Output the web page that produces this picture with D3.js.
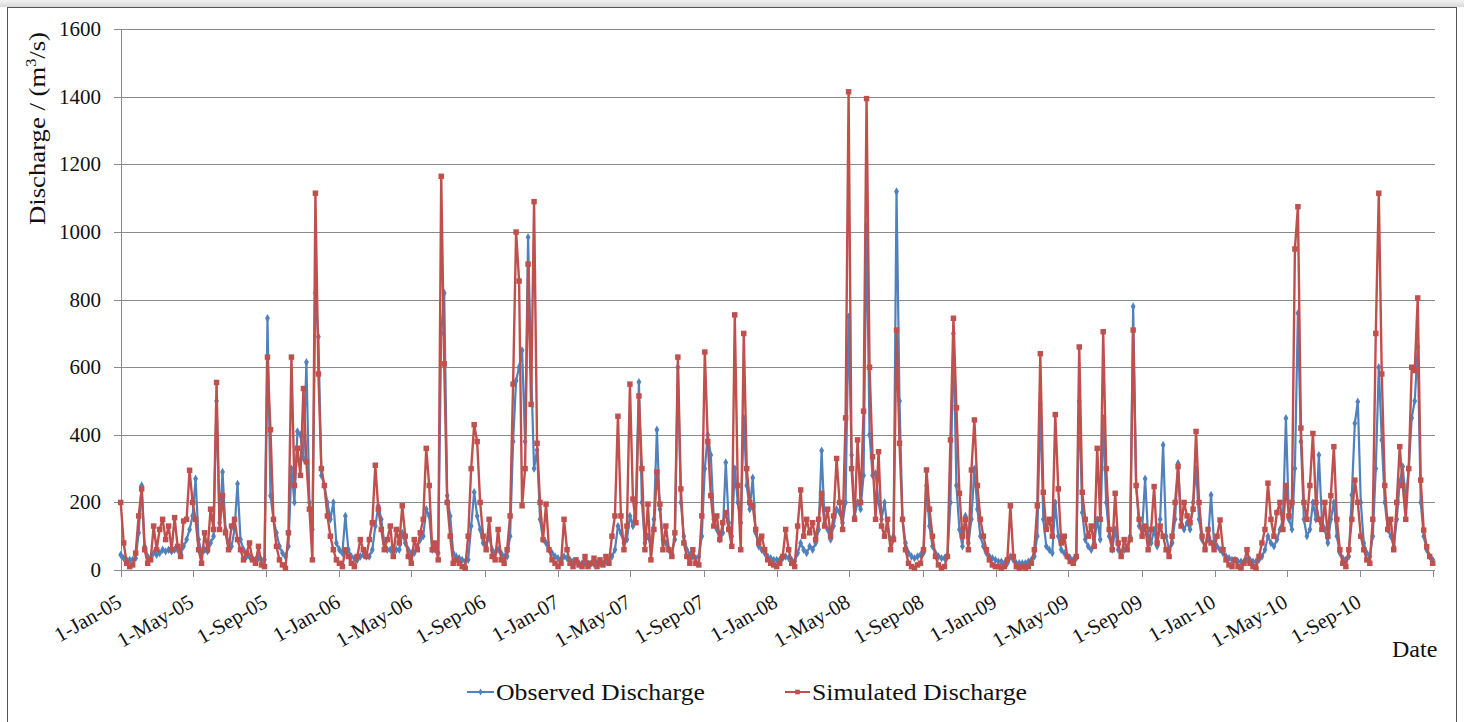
<!DOCTYPE html>
<html>
<head>
<meta charset="utf-8">
<script src="https://cdn.jsdelivr.net/npm/d3@7"></script>
<style>
  html, body { margin: 0; padding: 0; background: #ffffff; }
  svg { display: block; }
</style>
</head>
<body>
<svg id="chart" width="1464" height="722"></svg>
<script>
// Daily discharge, sampled every 5 days from 1 Jan 2005 (m3/s)
const startDate = new Date(2005, 0, 1);
const stepDays = 5;

const observed2005 = [45,35,30,30,30,35,110,250,70,40,35,50,45,50,60,55,60,55,60,60,50,70,90,120,160,270,90,50,60,55,80,100,500,140,290,120,80,70,120,255,90,60,40,40,35,30,35,30,30,745,220,150,110,70,50,40,70,300,200,410,400,330,615,200,120,820,690,280,250,200,150,200,80];
const simulated2005 = [200,80,20,10,15,50,160,240,60,20,30,130,60,120,150,90,130,60,155,70,40,145,150,295,200,150,60,20,110,60,180,120,555,120,220,110,60,130,150,90,60,30,50,80,30,20,70,15,10,630,415,150,70,30,15,5,110,630,250,360,280,537,320,180,30,1115,580,300,250,160,100,60,30];

const observed2006 = [60,50,160,60,40,35,30,40,45,40,40,60,130,190,150,80,60,60,50,60,60,110,80,60,50,50,70,90,100,180,160,60,60,50,700,820,220,160,50,40,35,30,25,30,130,230,160,120,80,70,100,60,50,60,50,40,40,100,380,560,600,650,380,985,600,300,355,150,90,80,60,50,40];
const simulated2006 = [20,10,60,40,20,10,40,90,60,40,90,140,310,180,120,60,90,130,40,120,80,190,100,40,20,90,60,110,150,360,250,60,80,30,1165,610,200,100,20,30,20,10,5,100,300,430,380,200,100,60,150,40,30,120,30,20,60,160,550,1000,855,190,300,905,490,1090,375,200,90,195,60,30,20];

const observed2007 = [35,30,40,35,30,25,25,20,20,20,20,18,18,20,20,20,25,25,40,60,130,110,80,90,160,130,200,556,200,80,100,70,150,415,180,90,80,60,50,90,600,200,100,60,45,40,35,40,100,300,400,340,150,120,90,110,318,140,100,300,200,140,450,250,180,273,110,70,60,50,40,35,30];
const simulated2007 = [10,20,150,60,20,10,30,15,10,40,10,20,35,10,30,15,40,20,100,160,455,160,60,130,550,210,140,515,300,60,195,30,120,290,195,60,130,60,40,110,630,240,80,40,20,60,20,15,160,645,380,220,130,160,90,140,170,120,70,755,250,60,700,300,200,190,120,80,100,60,30,20,15];

const observed2008 = [30,30,35,40,35,30,25,50,80,60,50,70,60,80,120,353,140,120,90,130,180,170,140,200,750,340,160,200,180,280,1020,400,280,286,200,150,200,120,90,100,1120,500,150,80,50,40,35,40,45,50,250,130,70,50,40,35,35,40,200,700,250,120,70,160,80,150,300,180,100,70,50,40,35,30];
const simulated2008 = [10,20,40,120,60,20,10,130,237,100,150,110,140,90,150,227,130,180,100,160,330,200,120,450,1415,300,150,385,200,470,1395,600,335,150,350,130,100,150,60,90,710,375,150,60,20,10,5,15,20,60,296,180,100,40,15,5,10,40,385,745,480,227,100,150,60,296,444,250,150,100,60,30,15,10];

const observed2009 = [25,25,20,20,40,30,20,20,20,20,25,30,40,100,490,150,70,60,50,200,100,60,50,40,35,30,35,500,170,90,70,60,80,150,90,450,200,100,60,120,60,50,60,70,100,780,250,130,120,270,100,80,120,70,150,370,100,60,80,150,316,150,120,140,120,200,300,150,90,70,90,222,80];
const simulated2009 = [10,5,10,30,190,40,10,5,10,5,10,20,60,190,640,230,120,150,100,460,240,80,100,40,25,20,40,660,230,150,100,130,70,360,150,705,300,120,60,227,80,40,90,60,90,710,250,150,100,130,60,120,247,80,130,100,60,40,100,200,306,130,200,160,140,180,410,200,100,60,120,80,60];

const observed2010 = [70,60,50,40,35,30,30,25,25,25,30,30,25,25,30,40,60,100,80,70,90,120,150,449,150,120,300,760,380,150,100,120,200,150,340,150,120,80,150,200,100,50,35,30,40,222,434,498,200,80,50,40,100,300,600,385,200,120,100,70,150,260,306,200,300,450,500,660,200,100,60,40,30];
const simulated2010 = [100,148,60,30,15,10,30,10,5,20,60,20,10,5,40,80,120,257,150,100,170,200,120,250,160,200,950,1075,420,200,150,250,404,200,150,120,200,100,220,365,150,60,20,10,60,150,266,200,100,60,30,20,150,700,1115,580,250,120,150,60,200,365,250,150,300,600,590,805,266,118,69,40,20];

const observed = [].concat(observed2005, observed2006, observed2007, observed2008, observed2009, observed2010);
const simulated = [].concat(simulated2005, simulated2006, simulated2007, simulated2008, simulated2009, simulated2010);

const seriesNames = ["Observed Discharge", "Simulated Discharge"];
const seriesColors = ["#4F81BD", "#C0504D"];
const yTickValues = [0, 200, 400, 600, 800, 1000, 1200, 1400, 1600];
const yAxisTitle = "Discharge / (m";
const xAxisTitle = "Date";

const svg = d3.select("#chart");
const W = 1464, H = 722;
const plot = { left: 120.7, right: 1433.3, gridRight: 1435, top: 29.3, bottom: 570 };
const serif = "'Liberation Serif', 'Times New Roman', serif";
const axisGray = "#8a8a8a";

// window-like frame around the chart
const defs = svg.append("defs");
const grad = defs.append("linearGradient").attr("id", "topband").attr("x1", 0).attr("y1", 0).attr("x2", 0).attr("y2", 1);
grad.append("stop").attr("offset", "0%").attr("stop-color", "#f2f2f2");
grad.append("stop").attr("offset", "100%").attr("stop-color", "#d9d9d9");
svg.append("rect").attr("x", 0).attr("y", 0).attr("width", W).attr("height", 7).attr("fill", "url(#topband)");
svg.append("rect").attr("x", 7.5).attr("y", 7.5).attr("width", W - 15).attr("height", H).attr("fill", "#ffffff")
  .attr("stroke", "#555555").attr("stroke-width", 1);

const x = d3.scaleTime()
  .domain([startDate, new Date(2011, 0, 1)])
  .range([plot.left, plot.right]);
const y = d3.scaleLinear()
  .domain([0, 1600])
  .range([plot.bottom, plot.top]);

const dates = observed.map((_, i) => d3.timeDay.offset(startDate, i * stepDays));

// horizontal gridlines with short outward ticks
const grid = svg.append("g");
yTickValues.forEach(v => {
  const yy = Math.round(y(v)) + 0.5;
  grid.append("line").attr("x1", 114).attr("x2", plot.gridRight).attr("y1", yy).attr("y2", yy)
    .attr("stroke", axisGray).attr("stroke-width", 1);
  svg.append("text").attr("x", 101).attr("y", y(v) + 7)
    .attr("text-anchor", "end").attr("font-family", serif).attr("font-size", 21)
    .attr("fill", "#111").text(v);
});

// vertical axis line
svg.append("line").attr("x1", Math.round(plot.left) + 0.5).attr("x2", Math.round(plot.left) + 0.5)
  .attr("y1", y(1600)).attr("y2", plot.bottom + 0.5).attr("stroke", axisGray);

// date axis: ticks every four months
const xTicks = d3.timeMonth.every(4).range(startDate, new Date(2011, 0, 2));
const fmt = d3.timeFormat("%-d-%b-%y");
xTicks.forEach((d, i) => {
  const xx = Math.round(x(d)) + 0.5;
  svg.append("line").attr("x1", xx).attr("x2", xx).attr("y1", plot.bottom).attr("y2", plot.bottom + 7)
    .attr("stroke", axisGray);
  if (i < xTicks.length - 1) {
    svg.append("text")
      .attr("transform", `translate(${x(d) + 2.5},606) rotate(-30)`)
      .attr("text-anchor", "end").attr("font-family", serif).attr("font-size", 21)
      .attr("fill", "#111").text(fmt(d));
  }
});

// axis titles
const yt = svg.append("text")
  .attr("transform", "translate(45,225) rotate(-90)")
  .attr("font-family", serif).attr("font-size", 23).attr("fill", "#111")
  .attr("textLength", 193).attr("lengthAdjust", "spacingAndGlyphs");
yt.append("tspan").text(yAxisTitle);
yt.append("tspan").attr("font-size", 14).attr("dy", -9).text("3");
yt.append("tspan").attr("dy", 9).text("/s)");

svg.append("text").attr("x", 1392).attr("y", 656.5)
  .attr("font-family", serif).attr("font-size", 24).attr("fill", "#111").text(xAxisTitle);

// series
const line = d3.line().x((d, i) => x(dates[i])).y(d => y(d));
const diamond = d3.symbol().type(d3.symbolDiamond).size(20);
const square = d3.symbol().type(d3.symbolSquare).size(30);

function drawSeries(values, color, symbol, lw) {
  const g = svg.append("g");
  g.append("path").datum(values).attr("d", line).attr("fill", "none")
    .attr("stroke", color).attr("stroke-width", lw).attr("stroke-linejoin", "round");
  g.selectAll("path.m").data(values).join("path").attr("class", "m")
    .attr("transform", (d, i) => `translate(${x(dates[i])},${y(d)})`)
    .attr("d", symbol).attr("fill", color);
}
drawSeries(observed, seriesColors[0], diamond, 2.2);
drawSeries(simulated, seriesColors[1], square, 2.4);

// legend
const legendItems = [
  { name: seriesNames[0], color: seriesColors[0], symbol: d3.symbol().type(d3.symbolDiamond).size(14), x0: 467, x1: 494, tx: 496, tl: 209 },
  { name: seriesNames[1], color: seriesColors[1], symbol: d3.symbol().type(d3.symbolSquare).size(22), x0: 785, x1: 810, tx: 812, tl: 215 }
];
legendItems.forEach(it => {
  svg.append("line").attr("x1", it.x0).attr("x2", it.x1).attr("y1", 692).attr("y2", 692)
    .attr("stroke", it.color).attr("stroke-width", 2);
  svg.append("path").attr("transform", `translate(${(it.x0 + it.x1) / 2},692)`).attr("d", it.symbol).attr("fill", it.color);
  svg.append("text").attr("x", it.tx).attr("y", 700)
    .attr("font-family", serif).attr("font-size", 23).attr("fill", "#111")
    .attr("textLength", it.tl).attr("lengthAdjust", "spacingAndGlyphs").text(it.name);
});
</script>
</body>
</html>
